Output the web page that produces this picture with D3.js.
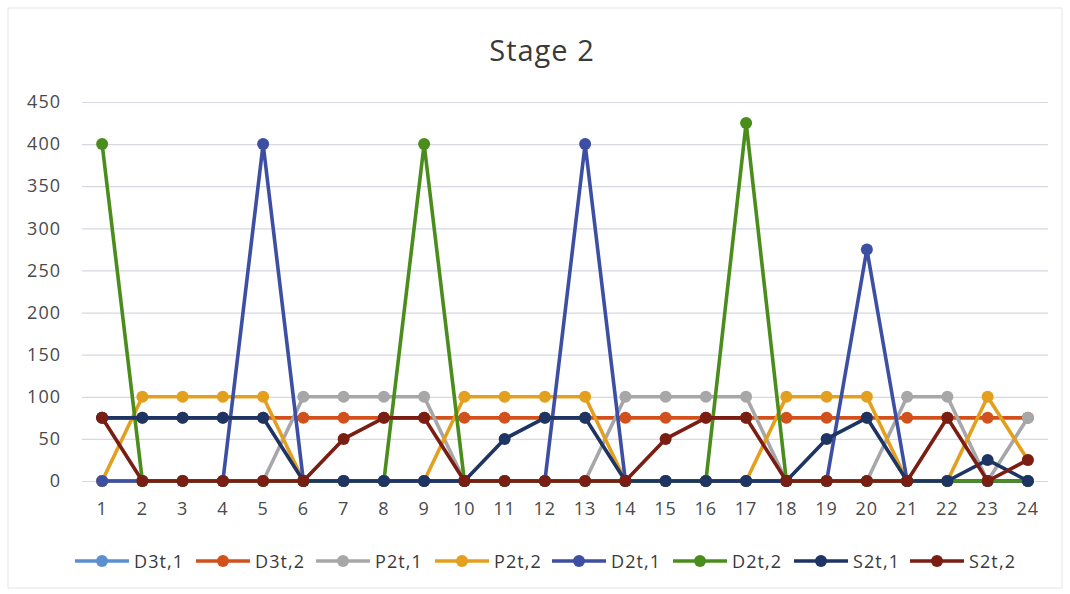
<!DOCTYPE html>
<html><head><meta charset="utf-8">
<script src="https://cdn.jsdelivr.net/npm/d3@7"></script>
<style>body{margin:0;background:#fff;} svg{display:block;font-family:"Open Sans",sans-serif;}</style>
</head><body><svg id="c" width="1070" height="594"></svg>
<script>
const title = "Stage 2";
const categories = d3.range(1, 25);
const yTicks = [0, 50, 100, 150, 200, 250, 300, 350, 400, 450];
const seriesNames = ["D3t,1", "D3t,2", "P2t,1", "P2t,2", "D2t,1", "D2t,2", "S2t,1", "S2t,2"];
const seriesColors = ["#5b8fcf", "#d2501c", "#a7a7a9", "#e39f1e", "#3d4fa3", "#4b8d1c", "#1e3564", "#7a1d12"];
const D3t1 = [0,0,0,0,0,0,0,0,0,0,0,0,0,0,0,0,0,0,0,0,0,0,0,0];
const D3t2 = [75,75,75,75,75,75,75,75,75,75,75,75,75,75,75,75,75,75,75,75,75,75,75,75];
const P2t1 = [0,0,0,0,0,100,100,100,100,0,0,0,0,100,100,100,100,0,0,0,100,100,0,75];
const P2t2 = [0,100,100,100,100,0,0,0,0,100,100,100,100,0,0,0,0,100,100,100,0,0,100,25];
const D2t1 = [0,0,0,0,400,0,0,0,0,0,0,0,400,0,0,0,0,0,0,275,0,0,0,0];
const D2t2 = [400,0,0,0,0,0,0,0,400,0,0,0,0,0,0,0,425,0,0,0,0,0,0,0];
const S2t1 = [75,75,75,75,75,0,0,0,0,0,50,75,75,0,0,0,0,0,50,75,0,0,25,0];
const S2t2 = [75,0,0,0,0,0,50,75,75,0,0,0,0,0,50,75,75,0,0,0,0,75,0,25];
const seriesValues = [D3t1, D3t2, P2t1, P2t2, D2t1, D2t2, S2t1, S2t2];

const svg = d3.select("#c");
svg.append("rect").attr("x",8).attr("y",8).attr("width",1054).attr("height",580)
  .attr("fill","#fff").attr("stroke","#e4e4e8").attr("stroke-width",1);

const x = d3.scaleBand().domain(categories).range([82, 1048]).padding(0);
const cx = d => x(d) + x.bandwidth()/2;
const y = d3.scaleLinear().domain([0, 450]).range([481, 102]);

svg.append("text").attr("x", 542).attr("y", 61).attr("text-anchor","middle")
  .attr("font-size", 29).attr("letter-spacing", 1).attr("fill", "#3a3a3a").text(title);

// grid
const yAxis = d3.axisLeft(y).tickValues(yTicks).tickSize(-(1048-82)).tickPadding(21);
const gy = svg.append("g").attr("transform","translate(82,0)").call(yAxis);
gy.select(".domain").remove();
gy.selectAll(".tick line").attr("stroke","#d6d8e4").attr("stroke-width",1.2);
gy.selectAll(".tick text").attr("font-size",18).attr("letter-spacing",1).attr("fill","#4a4a4a").attr("font-family","'Open Sans',sans-serif");

const xAxis = d3.axisBottom(x).tickSize(0).tickPadding(21);
const gx = svg.append("g").attr("transform","translate(0,481)").call(xAxis);
gx.select(".domain").remove();
gx.selectAll(".tick text").attr("font-size",18).attr("letter-spacing",1).attr("fill","#4a4a4a").attr("font-family","'Open Sans',sans-serif");

const line = d3.line().x((v,i) => cx(categories[i])).y(v => y(v));
seriesValues.forEach((vals, si) => {
  const g = svg.append("g");
  g.append("path").attr("d", line(vals)).attr("fill","none")
    .attr("stroke", seriesColors[si]).attr("stroke-width", 3.6).attr("stroke-linejoin","round");
  g.selectAll("circle").data(vals).enter().append("circle")
    .attr("cx", (v,i) => cx(categories[i])).attr("cy", v => y(v)).attr("r", 6)
    .attr("fill", seriesColors[si]);
});

// legend
const legendX = [75, 196, 316, 435, 552, 673, 794, 910];
const lg = svg.append("g");
seriesNames.forEach((n, i) => {
  const lx = legendX[i], ly = 561;
  lg.append("line").attr("x1", lx).attr("x2", lx+54).attr("y1", ly).attr("y2", ly)
    .attr("stroke", seriesColors[i]).attr("stroke-width", 3.6);
  lg.append("circle").attr("cx", lx+27).attr("cy", ly).attr("r", 6).attr("fill", seriesColors[i]);
  lg.append("text").attr("x", lx+59).attr("y", ly+6.5).attr("font-size", 18).attr("letter-spacing", 1.1).attr("fill","#3a3a3a").text(n);
});
</script></body></html>
